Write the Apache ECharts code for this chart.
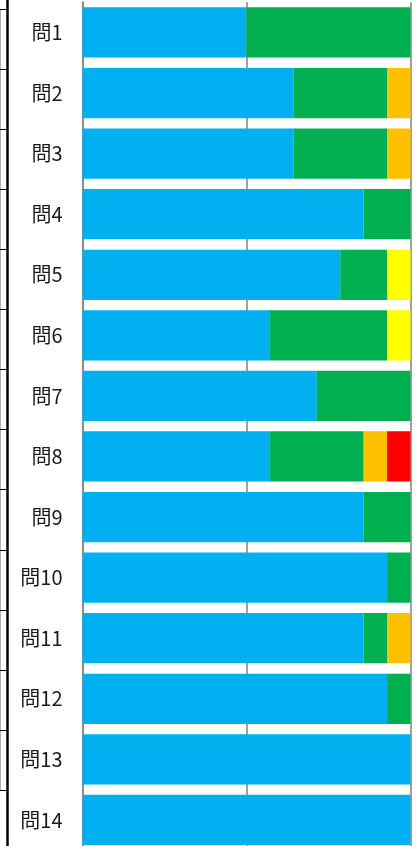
<!DOCTYPE html>
<html>
<head>
<meta charset="utf-8">
<script src="https://cdn.jsdelivr.net/npm/echarts@6/dist/echarts.min.js"></script>
<style>
html,body{margin:0;padding:0;background:#fff;}
#c{width:416px;height:846px;}
</style>
</head>
<body>
<div id="c"></div>
<script>
const categories = ['問1','問2','問3','問4','問5','問6','問7','問8','問9','問10','問11','問12','問13','問14'];
const blueVals   = [7, 9, 9, 12, 11, 8, 10, 8, 12, 13, 12, 13, 14, 14];
const greenVals  = [7, 4, 4, 2, 2, 5, 4, 4, 2, 1, 1, 1, 0, 0];
const orangeVals = [0, 1, 1, 0, 0, 0, 0, 1, 0, 0, 1, 0, 0, 0];
const yellowVals = [0, 0, 0, 0, 1, 1, 0, 0, 0, 0, 0, 0, 0, 0];
const redVals    = [0, 0, 0, 0, 0, 0, 0, 1, 0, 0, 0, 0, 0, 0];
const totalCount = 14;
const rowFrame = ['', ...categories];

const chart = echarts.init(document.getElementById('c'), null, {renderer:'canvas'});
const mk = (name, data, color) => ({
  name, type:'bar', stack:'all', data,
  xAxisIndex:0, yAxisIndex:0,
  barCategoryGap:'17%',
  itemStyle:{color},
  emphasis:{disabled:true},
  silent:true
});
chart.setOption({
  animation:false,
  grid:[
    {left:82.5, right:5.5, top:2.2, height:848, outerBoundsMode:'none', containLabel:false},
    {left:7, right:400, top:-51, height:901.2, outerBoundsMode:'none', containLabel:false}
  ],
  graphic:[
    {type:'line', shape:{x1:0, y1:9, x2:0, y2:790}, style:{stroke:'#666', lineWidth:1}, silent:true}
  ],
  xAxis:[
    {type:'value', gridIndex:0, min:0, max:totalCount, interval:totalCount/2,
     axisLabel:{show:false}, axisLine:{show:false}, axisTick:{show:false},
     splitLine:{show:true, lineStyle:{color:'#a0a0a0', width:2}}},
    {type:'value', gridIndex:1, show:false}
  ],
  yAxis:[
    {type:'category', gridIndex:0, data:categories, inverse:true,
     axisLine:{show:true, lineStyle:{color:'#8c8c8c', width:2}},
     axisTick:{show:false},
     axisLabel:{margin:20, fontSize:20, color:'#1a1a1a', fontFamily:'"Noto Sans CJK JP", sans-serif'}},
    {type:'category', gridIndex:1, data:rowFrame, inverse:true,
     axisLine:{show:true, lineStyle:{color:'#000', width:2.5}},
     axisTick:{show:true, length:7, lineStyle:{color:'#000', width:1}},
     axisLabel:{show:false}}
  ],
  series:[
    mk('blue', blueVals, '#00B0F0'),
    mk('green', greenVals, '#00B050'),
    mk('orange', orangeVals, '#FFC000'),
    mk('yellow', yellowVals, '#FFFF00'),
    mk('red', redVals, '#FF0000')
  ]
});
</script>
</body>
</html>
